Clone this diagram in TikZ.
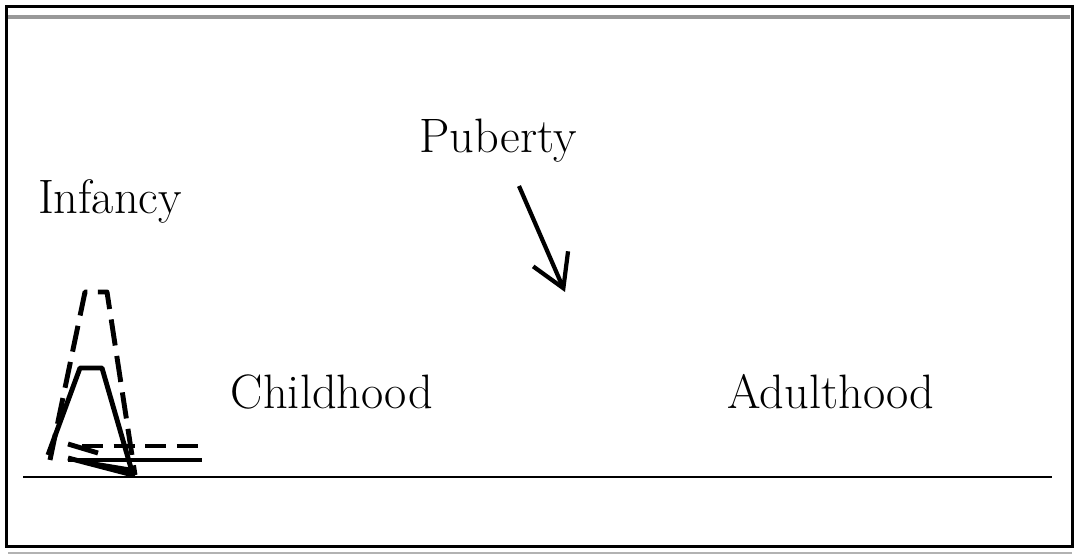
\documentclass[tikz,border=0pt]{standalone}
\usepackage{tikz}
\usetikzlibrary{arrows.meta}
\usetikzlibrary{backgrounds}

\begin{document}
\begin{tikzpicture}[x=0.02cm,y=-0.02cm]
		\useasboundingbox (0,0) rectangle (1076,557);

		\begin{scope}[line width=2.2pt]
			\draw[black!40] (8,17) -- (1070,17);
			\draw[black!30,line width=1.4pt] (8,553) -- (1072,553);
			\draw[black] (6.5,6.5) rectangle (1072.5,546.5);
		\end{scope}

		\begin{scope}[every node/.style={font=\fontsize{27.5}{32}\selectfont}]
		    	\node (infancy) at (110,201) {Infancy};
			\node (puberty) at (498,141) {Puberty};
		    	\node (childhood) at (332,392) {Childhood};
			\node (adulthood) at (831,392) {Adulthood};
		\end{scope}

		\coordinate (axisl) at (23,477);
		\coordinate (axisr) at (1052,477);
		\coordinate (pubtop) at (519,186);
		\coordinate (pubtip) at (565,292);

		\begin{scope}[line width=2.8pt,line join=round]
			\draw[dash pattern=on 15pt off 6pt] (50,460) -- (85,292) -- (107,292) -- (135,475);
			\draw[dash pattern=on 12pt off 6pt] (82,446) -- (202,446);
			\draw (68,444) -- (98,453);
			\draw (48,455) -- (80,368) -- (102,368) -- (133,475) -- (68,458);
			\draw (68,460) -- (202,460);
			\draw (88,463) -- (130,470);
		\end{scope}

		\begin{scope}[>={Straight Barb[length=0.64cm,width=0.76cm,line width=2.4pt]},
		              every edge/.style={draw=black,line width=2.4pt}]
			\path (axisl) edge[line width=1.4pt] (axisr);
			\path (pubtop) edge[->] (pubtip);
		\end{scope}
		\end{tikzpicture}
\end{document}
